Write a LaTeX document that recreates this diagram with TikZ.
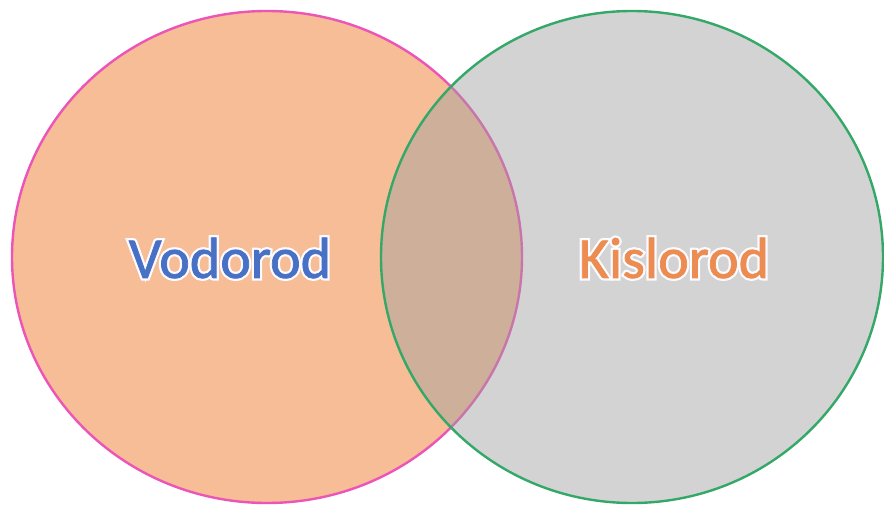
\documentclass[tikz,border=0pt]{standalone}
\usepackage{fontspec}
\setmainfont{Carlito}
\newfontfamily\halofont[FakeBold=9]{Carlito}
\newfontfamily\mainlbl[FakeBold=1.2]{Carlito}
\usetikzlibrary{shapes.geometric}
\definecolor{peach}{RGB}{246,189,150}
\definecolor{pinkline}{RGB}{236,84,184}
\definecolor{greenline}{RGB}{52,168,104}
\definecolor{grayfill}{RGB}{158,158,158}
\definecolor{vblue}{RGB}{72,112,196}
\definecolor{korange}{RGB}{236,140,80}
\definecolor{halo}{RGB}{250,250,255}
\tikzset{
  setshape/.style={ellipse, inner sep=0pt, line width=2.4pt},
  lbl/.style={font=\mainlbl\fontsize{58}{60}\selectfont, inner sep=0pt, anchor=center},
  halolbl/.style={font=\halofont\fontsize{58}{60}\selectfont, inner sep=0pt, anchor=center, text=halo},
}
\begin{document}
\begin{tikzpicture}[x=1pt,y=-1pt]
\useasboundingbox (0,0) rectangle (884,516);
\fill[white] (0,0) rectangle (884,516);
\node[setshape, draw=pinkline, fill=peach, minimum width=510pt, minimum height=492pt] (vod) at (267,257) {};
\node[setshape, draw=greenline, fill=grayfill, fill opacity=0.45, draw opacity=1, minimum width=502pt, minimum height=492pt] (kis) at (632,257) {};
\node[halolbl] (hv) at (230,258) {Vodorod};
\node[lbl, text=vblue] (tv) at (230,258) {Vodorod};
\node[halolbl] (hk) at (674,258) {Kislorod};
\node[lbl, text=korange] (tk) at (674,258) {Kislorod};
\end{tikzpicture}
\end{document}
